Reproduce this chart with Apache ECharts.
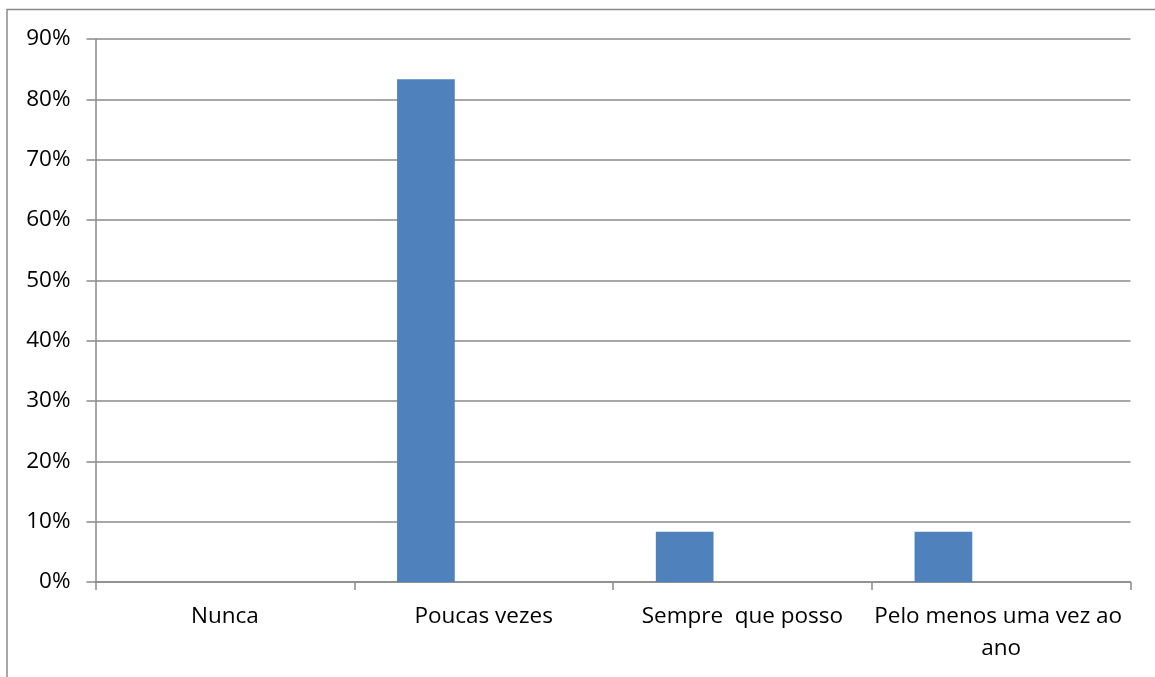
<!DOCTYPE html>
<html>
<head>
<meta charset="utf-8">
<script src="https://cdn.jsdelivr.net/npm/echarts@6/dist/echarts.min.js"></script>
<style>
html,body{margin:0;padding:0;background:#fff;}
#c{width:1155px;height:677px;}
</style>
</head>
<body>
<div id="c"></div>
<script>
const categories = ['Nunca', 'Poucas vezes', 'Sempre  que posso', 'Pelo menos uma vez ao ano'];
const values = [0, 0.8333, 0.0833, 0.0833];
const emptyA = [null, null, null, null];
const emptyB = [null, null, null, null];
const yTicks = { min: 0, max: 0.9, interval: 0.1 };

const chart = echarts.init(document.getElementById('c'), null, { renderer: 'canvas' });
const gray = '#8a8a8a';
const font = '"Open Sans", "Liberation Sans", sans-serif';
const barStyle = { color: '#4F81BD' };
chart.setOption({
  animation: false,
  backgroundColor: '#ffffff',
  graphic: [{
    type: 'rect',
    shape: { x: 7, y: 9.5, width: 1200, height: 800 },
    style: { fill: 'none', stroke: gray, lineWidth: 1.5 },
    silent: true, z: -1
  }],
  grid: { left: 95.5, right: 24.5, top: 39, bottom: 95, containLabel: false },
  xAxis: {
    type: 'category',
    data: categories,
    axisLine: { show: true, lineStyle: { color: gray, width: 1.5 } },
    axisTick: { show: true, length: 8, lineStyle: { color: gray, width: 1.5 } },
    axisLabel: {
      color: '#000', fontFamily: font, fontSize: 22.5, lineHeight: 32,
      margin: 19, interval: 0, width: 262, overflow: 'break', align: 'center'
    },
    splitLine: { show: false }
  },
  yAxis: {
    type: 'value',
    min: yTicks.min, max: yTicks.max, interval: yTicks.interval,
    axisLine: { show: true, lineStyle: { color: gray, width: 1.5 } },
    axisTick: { show: true, length: 9, lineStyle: { color: gray, width: 1.5 } },
    axisLabel: {
      color: '#000', fontFamily: font, fontSize: 22.5, margin: 25,
      formatter: v => Math.round(v * 100) + '%'
    },
    splitLine: { show: true, lineStyle: { color: gray, width: 1.5 } }
  },
  series: [
    { type: 'bar', data: values, barWidth: '22.3%', barGap: '0%', itemStyle: barStyle },
    { type: 'bar', data: emptyA, barWidth: '22.3%', barGap: '0%', itemStyle: barStyle },
    { type: 'bar', data: emptyB, barWidth: '22.3%', barGap: '0%', itemStyle: barStyle }
  ]
});
</script>
</body>
</html>
